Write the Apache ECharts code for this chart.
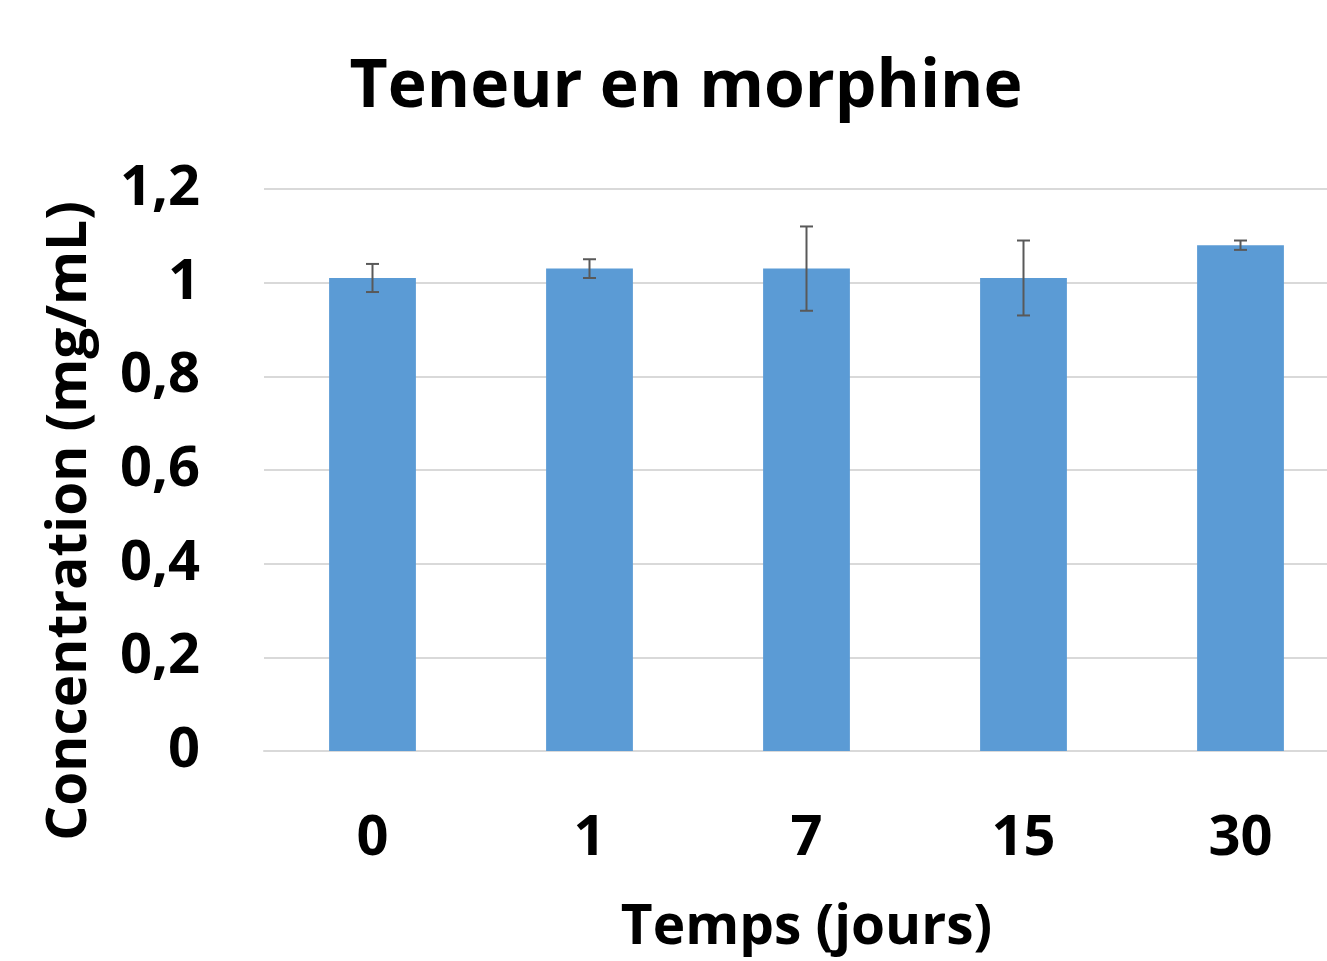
<!DOCTYPE html>
<html>
<head>
<meta charset="utf-8">
<style>
html,body{margin:0;padding:0;background:#fff;}
#chart{width:1327px;height:961px;}
</style>
<script src="https://cdn.jsdelivr.net/npm/echarts@6/dist/echarts.min.js"></script>
</head>
<body>
<div id="chart"></div>
<script>
const categories = ['0', '1', '7', '15', '30'];
const concentration = [1.01, 1.03, 1.03, 1.01, 1.08];
const errors = [0.03, 0.02, 0.09, 0.08, 0.01];
const yTicks = [0, 0.2, 0.4, 0.6, 0.8, 1, 1.2];

const font = '"Open Sans", "DejaVu Sans", sans-serif';
const chart = echarts.init(document.getElementById('chart'));

chart.setOption({
    animation: false,
    title: {
        text: 'Teneur en morphine',
        left: 681,
        top: 50,
        textAlign: 'center',
        textStyle: {fontFamily: font, fontWeight: 'bold', fontSize: 66, color: '#000'}
    },
    grid: {
        left: 264,
        top: 189,
        bottom: 210,
        width: 1085,
        outerBoundsMode: 'none',
        containLabel: false
    },
    xAxis: {
        type: 'category',
        data: categories,
        name: 'Temps (jours)',
        nameLocation: 'middle',
        nameGap: 150,
        nameTextStyle: {fontFamily: font, fontWeight: 'bold', fontSize: 55, color: '#000'},
        axisLine: {lineStyle: {color: '#d9d9d9', width: 2}},
        axisTick: {show: false},
        axisLabel: {fontFamily: font, fontWeight: 'bold', fontSize: 56, color: '#000', margin: 60}
    },
    yAxis: {
        type: 'value',
        min: 0,
        max: 1.2,
        interval: 0.2,
        name: 'Concentration (mg/mL)',
        nameLocation: 'middle',
        nameGap: 166,
        nameTextStyle: {fontFamily: font, fontWeight: 'bold', fontSize: 55, color: '#000', padding: [0, 102, 0, 0]},
        axisLine: {show: false},
        axisTick: {show: false},
        splitLine: {lineStyle: {color: '#d9d9d9', width: 2}},
        axisLabel: {
            fontFamily: font, fontWeight: 'bold', fontSize: 56, color: '#000', margin: 64,
            formatter: function (v) {
                const t = yTicks.find(x => Math.abs(x - v) < 1e-9);
                return String(t !== undefined ? t : v).replace('.', ',');
            }
        }
    },
    series: [
        {
            type: 'bar',
            data: concentration,
            barWidth: '40%',
            itemStyle: {color: '#5b9bd5'}
        },
        {
            type: 'custom',
            data: concentration.map((v, i) => [i, v - errors[i], v + errors[i]]),
            renderItem: function (params, api) {
                const x = api.coord([api.value(0), 0])[0];
                const lo = api.coord([api.value(0), api.value(1)])[1];
                const hi = api.coord([api.value(0), api.value(2)])[1];
                const half = 6.5;
                const style = {stroke: '#595959', lineWidth: 2};
                return {
                    type: 'group',
                    children: [
                        {type: 'line', shape: {x1: x, y1: lo, x2: x, y2: hi}, style: style},
                        {type: 'line', shape: {x1: x - half, y1: lo, x2: x + half, y2: lo}, style: style},
                        {type: 'line', shape: {x1: x - half, y1: hi, x2: x + half, y2: hi}, style: style}
                    ]
                };
            },
            z: 10
        }
    ]
});
</script>
</body>
</html>
